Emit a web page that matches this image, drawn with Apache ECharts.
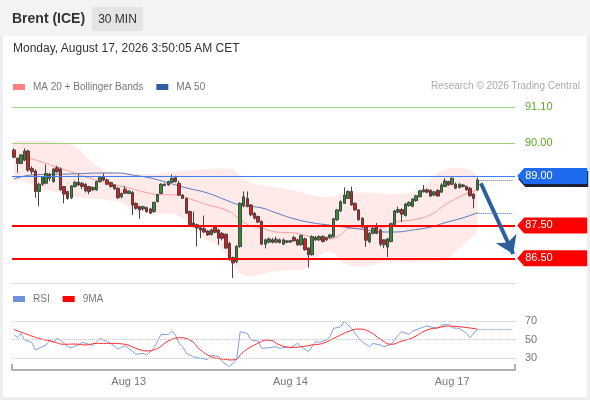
<!DOCTYPE html>
<html><head><meta charset="utf-8">
<script src="https://cdn.jsdelivr.net/npm/echarts@6/dist/echarts.min.js"></script>
<style>
html,body{margin:0;padding:0;}
body{width:590px;height:400px;overflow:hidden;font-family:"Liberation Sans",Arial,sans-serif;}
#wrap{position:relative;width:590px;height:400px;background:#eceef0;}
#hdr{position:absolute;left:0;top:0;width:590px;height:36px;background:#f3f3f3;}
#panel{position:absolute;left:3px;top:36px;width:584px;height:361px;background:#fff;}
#chart{position:absolute;left:0;top:0;width:590px;height:400px;}
.t{position:absolute;white-space:nowrap;}
</style></head>
<body><div id="wrap">
<div id="hdr"></div><div id="panel"></div>
<div id="chart"></div>
<div class="t" style="left:12px;top:8px;line-height:20px;font-size:14px;font-weight:bold;color:#333;">Brent (ICE)</div>
<div class="t" style="left:92px;top:7px;width:51px;height:24px;line-height:24px;text-align:center;background:#e4e4e4;font-size:12px;color:#333;">30 MIN</div>
<div class="t" style="left:13px;top:38px;line-height:20px;font-size:12px;color:#333;">Monday, August 17, 2026 3:50:05 AM CET</div>
<div class="t" style="right:10px;top:76px;line-height:20px;font-size:10px;color:#aaa;">Research © 2026 Trading Central</div>
</div>
<script>
// ---- data ----
const opens = [
89.79,89.54,89.38,89.48,89.76,89.23,89.15,88.53,88.75,88.78,
89.05,88.83,89.25,89.21,88.68,88.53,88.34,88.68,88.81,88.78,
88.75,88.68,88.58,88.58,88.83,88.98,88.88,88.80,88.73,88.63,
88.37,88.60,88.47,88.50,88.17,88.07,88.00,88.04,88.00,87.92,
88.22,88.47,88.75,88.73,88.81,88.95,88.78,88.42,88.32,87.92,
87.57,87.52,87.43,87.40,87.33,87.22,87.46,87.36,87.26,87.23,
86.95,86.52,86.40,86.86,88.10,88.32,88.12,87.87,87.77,87.62,
86.93,86.99,87.06,86.99,87.06,86.93,87.03,86.99,87.13,87.06,
86.91,87.09,86.81,86.61,87.13,87.06,87.16,87.06,87.13,87.16,
87.67,87.94,88.17,88.32,88.53,88.17,87.97,87.72,87.45,87.00,
87.26,87.48,87.36,87.06,86.84,87.01,87.53,87.90,87.98,87.80,
88.10,88.08,88.25,88.37,88.52,88.58,88.56,88.42,88.56,88.51,
88.68,88.83,88.75,88.75,88.65,88.73,88.68,88.63,88.45,88.58];
const closes = [
89.57,89.38,89.64,89.76,89.18,89.13,88.53,88.75,88.98,89.08,
88.93,89.21,89.13,88.58,88.45,88.32,88.70,88.81,88.73,88.68,
88.55,88.53,88.65,88.83,88.95,88.88,88.75,88.68,88.61,88.34,
88.47,88.48,88.54,88.12,88.02,87.97,88.07,87.92,87.87,88.20,
88.44,88.75,88.71,88.83,88.93,88.83,88.42,88.32,87.87,87.52,
87.47,87.42,87.36,87.30,87.21,87.36,87.29,87.11,87.11,86.81,
86.50,86.36,86.86,88.17,88.37,88.07,87.82,87.72,87.60,86.93,
87.06,87.09,86.99,87.08,86.98,87.06,86.99,87.04,87.03,86.91,
87.19,86.76,86.61,87.16,87.06,87.16,87.01,87.13,87.21,87.70,
87.97,88.22,88.42,88.53,88.12,87.97,87.67,87.45,87.05,87.26,
87.41,87.26,86.93,86.91,87.09,87.55,87.94,87.98,87.84,88.15,
88.20,88.30,88.40,88.55,88.58,88.51,88.39,88.52,88.39,88.73,
88.85,88.73,88.93,88.63,88.75,88.68,88.58,88.40,88.32,88.88];
const lows = [
89.54,89.10,89.36,89.45,89.13,89.05,88.34,88.09,88.70,88.75,
88.85,88.80,89.10,88.55,88.17,88.28,88.30,88.65,88.70,88.60,
88.50,88.45,88.55,88.55,88.80,88.85,88.72,88.65,88.58,88.30,
88.32,88.45,88.45,87.82,87.98,87.70,87.95,87.88,87.84,87.88,
88.20,88.45,88.69,88.70,88.79,88.80,88.40,88.30,87.85,87.50,
87.44,86.86,87.11,87.27,87.18,87.20,87.26,86.91,87.05,86.78,
86.42,85.90,86.35,86.82,88.05,88.05,87.78,87.68,87.57,86.90,
86.80,86.95,86.95,86.96,86.95,86.90,86.96,86.97,87.00,86.88,
86.88,86.73,86.22,86.58,87.03,87.03,86.98,87.03,87.10,87.13,
87.64,87.90,88.15,88.30,88.10,87.94,87.64,87.42,86.85,86.96,
87.23,87.23,86.86,86.81,86.54,86.98,87.50,87.87,87.60,87.77,
88.07,88.05,88.22,88.35,88.50,88.48,88.36,88.39,88.37,88.48,
88.66,88.70,88.72,88.60,88.62,88.65,88.55,88.37,88.02,88.55];
const highs = [
89.84,89.56,89.66,89.84,89.80,89.30,89.20,88.80,89.00,89.35,
89.10,89.25,89.31,89.26,88.70,88.55,88.72,88.85,89.05,88.82,
88.78,88.70,88.68,88.86,88.98,89.08,88.92,88.83,88.76,88.66,
88.50,88.70,88.57,88.55,88.20,88.10,88.10,88.07,88.03,88.22,
88.46,88.78,88.78,88.86,89.05,89.01,88.85,88.45,88.35,87.95,
87.92,87.55,87.46,87.80,87.36,87.40,87.50,87.40,87.30,87.26,
87.00,86.55,86.90,88.20,88.53,88.53,88.15,87.90,87.80,87.65,
87.10,87.13,87.12,87.16,87.10,87.10,87.05,87.06,87.19,87.10,
87.22,87.13,86.84,87.20,87.18,87.20,87.20,87.16,87.24,87.73,
88.00,88.26,88.65,88.56,88.68,88.20,88.00,87.75,87.48,87.30,
87.45,87.57,87.40,87.08,87.12,87.58,87.97,88.07,88.02,88.18,
88.23,88.33,88.43,88.58,88.73,88.62,88.60,88.55,88.60,88.78,
88.93,88.86,88.96,88.80,88.78,88.76,88.71,88.66,88.48,88.95];

// Bollinger band samples (candle index -> price)
const bandIdx = [0,4,8,13,17,21,24,27,30,34,38,42,46,50,54,57,60,62,64,66,70,75,80,84,88,92,97,102,107,111,114,117,120,123,126,129];
const bbUpper = [90.05,90.07,90.06,90.02,89.90,89.50,89.25,89.12,89.10,89.08,89.06,89.10,89.15,89.18,89.21,89.23,89.22,89.10,88.90,88.80,88.70,88.62,88.50,88.40,88.36,88.50,88.50,88.48,88.45,88.52,88.65,89.00,89.20,89.25,89.22,89.00];
const bbLower = [88.88,88.80,88.60,88.50,88.38,88.32,88.30,88.25,88.20,87.92,87.88,87.85,87.78,87.40,87.05,86.85,86.45,86.15,86.00,85.95,86.05,86.12,86.15,86.50,86.70,86.35,86.25,86.35,86.40,86.38,86.40,86.40,86.45,86.70,87.00,87.30];
const ma20Idx = [2,4,8,12,17,21,26,32,36,40,45,50,54,59,62,64,66,69,73,78,83,87,90,94,98,102,106,111,116,120,125,129];
const ma20 = [89.60,89.55,89.42,89.27,89.09,88.94,88.79,88.64,88.52,88.44,88.42,88.27,88.12,87.97,87.77,87.60,87.48,87.42,87.30,87.27,87.15,87.09,87.15,87.42,87.42,87.42,87.60,87.67,87.82,88.12,88.42,88.58];
const ma50Idx = [0,5,10,15,20,24,29,33,38,43,48,54,59,63,69,73,78,83,87,92,98,102,106,111,116,120,125,129];
const ma50 = [88.91,89.03,89.05,89.06,89.08,89.09,89.09,89.03,88.94,88.79,88.64,88.48,88.27,88.12,88.03,87.88,87.70,87.58,87.52,87.45,87.36,87.30,87.30,87.36,87.45,87.58,87.73,87.88];

// RSI samples
const rsiIdx = [0,1,2,3,5,6,8,9,10,11,12,13,15,16,18,19,21,22,24,26,27,29,31,32,34,36,37,39,40,41,43,44,45,46,47,48,50,52,54,55,57,58,60,62,63,65,66,68,69,71,73,74,76,77,79,80,82,84,85,87,88,89,91,92,94,96,97,99,100,102,103,105,107,108,110,111,113,115,116,118,119,121,122,124,126,127,129];
const rsi = [55.5,51.9,56.6,49.4,46.9,38.6,42.2,44.1,49.4,46.9,51.2,49.4,42.2,41.1,44.1,46.9,44.8,43.3,51.2,47.6,45.8,39.7,43.3,40.4,34.0,35.0,33.3,40.4,48.3,55.5,55.5,59.1,54.8,45.8,42.2,35.0,31.4,29.6,28.5,33.3,31.4,26.0,20.7,27.9,58.4,56.6,49.4,48.3,40.4,41.1,42.2,40.4,42.2,41.1,45.8,42.2,36.8,47.6,46.9,49.4,53.0,62.0,63.8,69.9,62.0,51.2,47.6,42.2,45.8,44.1,42.2,44.8,54.8,58.4,55.5,59.1,62.0,64.8,63.7,62.0,65.5,66.2,62.7,62.0,56.6,51.9,61.3];
const rsiMaIdx = [0,3,7,11,14,17,20,23,27,31,34,37,40,43,46,49,52,55,58,61,64,67,71,74,77,80,83,86,89,93,96,99,102,105,108,111,115,118,121,124,129];
const rsiMa = [60.9,56.6,51.2,47.6,44.8,45.1,44.1,45.8,45.8,44.8,40.4,37.6,40.4,48.3,51.9,49.4,38.6,31.4,28.9,27.9,36.8,44.1,49.4,44.1,41.5,42.2,44.1,45.8,51.2,58.4,61.3,58.4,50.5,44.8,48.3,51.9,60.2,62.7,64.5,63.8,61.3];
const rsiLevels = [70, 50, 30];

// price levels
const resistances = [91.10, 90.00];
const pivot = 89.00;
const supports = [87.50, 86.50];
const target = 86.50;

// x axis labels
const dayLabels = ['Aug 13', 'Aug 14', 'Aug 17'];
const dayStartIdx = [32, 77, 122];

// ---- build ----
const N = opens.length;
const M = 140;
const lastIdx = N - 1;
const cats = Array.from({length: M}, (_, i) => String(i));
const candleData = opens.map((o, i) => [o, closes[i], lows[i], highs[i]]);
const pairs = (idx, vals) => idx.map((x, k) => [x, vals[k]]);
const bandDiff = bbUpper.map((u, k) => +(u - bbLower[k]).toFixed(2));
const lastClose = closes[lastIdx];

const GREEN = '#5aab1f', BLUE = '#1f6bf0', RED = '#ff0000';
const tagPath = 'path://M0,8 L7,0 L70,0 L70,16 L7,16 Z';

const chart = echarts.init(document.getElementById('chart'), null, {renderer: 'canvas'});
const option = {
  animation: false,
  backgroundColor: 'transparent',
  textStyle: {fontFamily: '"Liberation Sans", Arial, sans-serif'},
  legend: [
    {left: 13, top: 82, padding: 0, itemWidth: 12, itemHeight: 6, itemGap: 13, selectedMode: false,
     textStyle: {color: '#777', fontSize: 10, padding: [0,0,0,3]},
     data: [{name: 'MA 20 + Bollinger Bands', icon: 'rect', itemStyle: {color: '#ff8080'}},
            {name: 'MA 50', icon: 'rect', itemStyle: {color: '#2e5ea6'}}]},
    {left: 13, top: 294, padding: 0, itemWidth: 12, itemHeight: 6, itemGap: 13, selectedMode: false,
     textStyle: {color: '#777', fontSize: 10, padding: [0,0,0,3]},
     data: [{name: 'RSI', icon: 'rect', itemStyle: {color: '#6f8fe0'}},
            {name: '9MA', icon: 'rect', itemStyle: {color: '#ff0000'}}]}
  ],
  grid: [
    {left: 12, right: 75, top: 97, height: 186},
    {left: 12, right: 75, top: 311.75, height: 58.27}
  ],
  xAxis: [
    {type: 'category', gridIndex: 0, data: cats, boundaryGap: true,
     axisLine: {show: true, onZero: false, lineStyle: {color: '#d6d6d6', type: 'dotted'}},
     axisTick: {show: false}, axisLabel: {show: false}, splitLine: {show: false}},
    {type: 'category', gridIndex: 1, data: cats, boundaryGap: true,
     axisLine: {show: true, onZero: false, lineStyle: {color: '#b0b0b0', width: 2}},
     axisTick: {show: true, inside: true, length: 6, interval: (i) => i === 0, lineStyle: {color: '#b0b0b0', width: 2}},
     axisLabel: {show: true, color: '#777', fontSize: 11, margin: 6,
       interval: (i) => dayStartIdx.indexOf(i) >= 0,
       formatter: (v) => { const k = dayStartIdx.indexOf(Number(v)); return k >= 0 ? dayLabels[k] : ''; }},
     splitLine: {show: false}}
  ],
  yAxis: [
    {type: 'value', gridIndex: 0, min: 85.75, max: 91.4, show: false, splitLine: {show: false}},
    {type: 'value', gridIndex: 1, min: 17, max: 80, show: false, splitLine: {show: false}}
  ],
  series: [
    {name: 'bbBase', type: 'line', xAxisIndex: 0, yAxisIndex: 0, stack: 'bb', smooth: true, symbol: 'none', silent: true,
     lineStyle: {opacity: 0}, data: pairs(bandIdx, bbLower), z: 1},
    {name: 'bbBand', type: 'line', xAxisIndex: 0, yAxisIndex: 0, stack: 'bb', smooth: true, symbol: 'none', silent: true,
     lineStyle: {opacity: 0}, areaStyle: {color: 'rgba(255,95,95,0.19)'}, data: pairs(bandIdx, bandDiff), z: 1},
    {name: 'MA 20 + Bollinger Bands', type: 'line', xAxisIndex: 0, yAxisIndex: 0, smooth: true, symbol: 'none',
     itemStyle: {color: '#ff8080'}, lineStyle: {color: '#ff9a9a', width: 1}, data: pairs(ma20Idx, ma20), z: 2},
    {name: 'MA 50', type: 'line', xAxisIndex: 0, yAxisIndex: 0, smooth: true, symbol: 'none',
     itemStyle: {color: '#2e5ea6'}, lineStyle: {color: '#5577bb', width: 1}, data: pairs(ma50Idx, ma50), z: 2,
     markLine: {silent: true, symbol: 'none', label: {show: false},
       lineStyle: {color: '#4a70c0', type: 'dotted', width: 1},
       data: [[{coord: [ma50Idx[ma50Idx.length-1], ma50[ma50.length-1]]}, {coord: [M-1, ma50[ma50.length-1]]}]]}},
    {name: 'Brent', type: 'candlestick', xAxisIndex: 0, yAxisIndex: 0, barWidth: 3, z: 3,
     itemStyle: {color: '#2f8f2f', color0: '#e01a1a', borderColor: '#444', borderColor0: '#444', borderWidth: 1},
     data: candleData,
     markLine: {silent: true, symbol: 'none', z: 4,
       data: [
         ...resistances.map(v => ({yAxis: v, lineStyle: {color: '#a3d27f', width: 1, type: 'solid'},
             label: {show: true, position: 'end', distance: 10, color: GREEN, fontSize: 11, formatter: v.toFixed(2)}})),
         {yAxis: pivot, lineStyle: {color: '#3d7ff2', width: 1, type: 'solid'}, label: {show: false}},
         ...supports.map(v => ({yAxis: v, lineStyle: {color: RED, width: 2, type: 'solid'}, label: {show: false}})),
         [{coord: [lastIdx, lastClose], lineStyle: {color: '#777', width: 1, type: 'dotted'}, label: {show: false}},
          {coord: [M-1, lastClose]}],
         [{coord: [lastIdx + 1, lastClose - 0.1], symbol: 'none', lineStyle: {color: '#2d5f9c', width: 4, type: 'solid'}, label: {show: false}},
          {coord: [M-1, target + 0.13], symbol: 'arrow', symbolSize: [17, 17]}]
       ]},
     markPoint: {silent: true, symbol: tagPath, symbolSize: [70, 16], symbolKeepAspect: false, symbolOffset: [39, 0],
       label: {show: true, position: 'insideLeft', distance: 8, color: '#fff', fontSize: 11},
       data: [
         {coord: [M-1, pivot], value: pivot.toFixed(2), itemStyle: {color: BLUE, shadowColor: 'rgba(15,20,45,0.95)', shadowOffsetY: 3, shadowOffsetX: 1, shadowBlur: 0}},
         ...supports.map(v => ({coord: [M-1, v], value: v.toFixed(2), itemStyle: {color: RED}}))
       ]}},
    {name: 'RSI', type: 'line', xAxisIndex: 1, yAxisIndex: 1, symbol: 'none', smooth: false,
     itemStyle: {color: '#6f8fe0'}, lineStyle: {color: '#7f9ce8', width: 1}, data: pairs(rsiIdx, rsi), z: 3,
     markLine: {silent: true, symbol: 'none',
       data: [
         ...rsiLevels.map(v => ({yAxis: v, lineStyle: {color: '#c4c4c4', type: 'dotted', width: 1},
             label: {show: true, position: 'end', distance: 10, color: '#777', fontSize: 11, formatter: String(v)}})),
         [{coord: [rsiIdx[rsiIdx.length-1], rsi[rsi.length-1]], lineStyle: {color: '#6f8fe0', type: 'dotted', width: 1}, label: {show: false}},
          {coord: [M-1, rsi[rsi.length-1]]}]
       ]}},
    {name: '9MA', type: 'line', xAxisIndex: 1, yAxisIndex: 1, symbol: 'none', smooth: true,
     itemStyle: {color: '#ff0000'}, lineStyle: {color: '#ff2a2a', width: 1}, data: pairs(rsiMaIdx, rsiMa), z: 4}
  ]
};
chart.setOption(option);
</script>
</body></html>
